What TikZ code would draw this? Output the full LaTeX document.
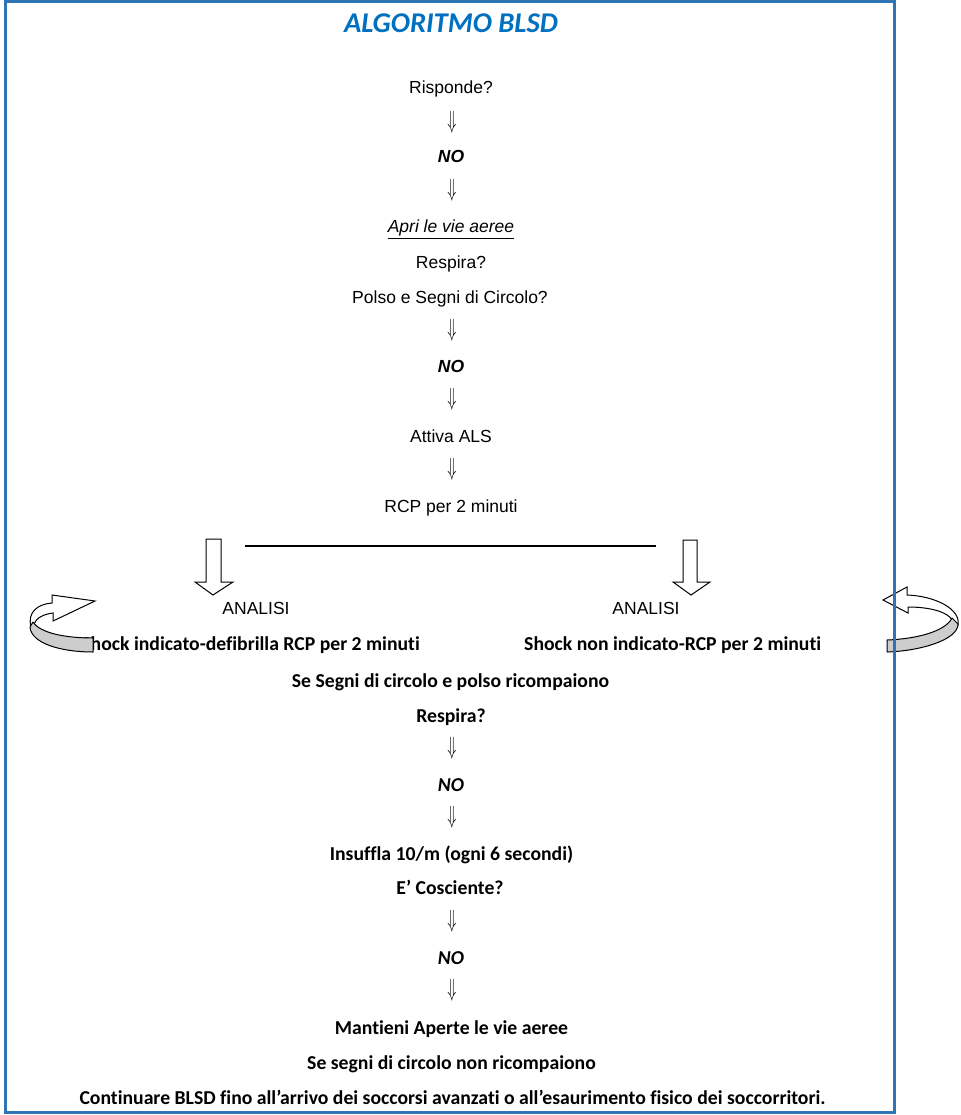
\documentclass[tikz,border=0pt]{standalone}
\usepackage{fontspec}
\setmainfont{Liberation Sans}
\newfontfamily\calfont[Ligatures=NoCommon]{Carlito}
\usepackage{graphicx}
\definecolor{frameblue}{RGB}{46,117,182}
\definecolor{titleblue}{RGB}{0,112,192}
\definecolor{bandgray}{RGB}{205,205,205}
\newcommand\dnarr{\scalebox{0.6}[1]{$\Downarrow$}}
\begin{document}
\begin{tikzpicture}[x=1pt,y=-1pt,
  ar/.style={font=\fontsize{17.5}{20}\selectfont, anchor=base, inner sep=0pt},
  arno/.style={font=\bfseries\itshape\fontsize{17.5}{20}\selectfont, anchor=base, inner sep=0pt},
  cb/.style={font=\calfont\bfseries\fontsize{19.7}{22}\selectfont, anchor=base, inner sep=0pt},
  cbno/.style={font=\calfont\bfseries\itshape\fontsize{19.7}{22}\selectfont, anchor=base, inner sep=0pt},
  dn/.style={inner sep=0pt, font=\fontsize{23}{25}\selectfont},
  blk/.style={draw=black, line width=1pt, fill=white, line join=miter},
  circw/.style={draw=black, line width=1pt, fill=white, line join=miter},
  circg/.style={draw=black, line width=1pt, fill=bandgray, line join=round}
]
\useasboundingbox (0,0) rectangle (960,1115);
\fill[white] (0,0) rectangle (960,1115);

% title
\node[anchor=base, inner sep=0pt, font=\calfont\bfseries\itshape\fontsize{28.6}{30}\selectfont, text=titleblue] (title) at (451,33) {ALGORITMO BLSD};

% upper chain
\node[ar] (risp) at (451,94) {Risponde?};
\node[dn] (d1) at (452,122) {\dnarr};
\node[arno] (no1) at (451,163) {NO};
\node[dn] (d2) at (452,190) {\dnarr};
\node[ar, font=\itshape\fontsize{17.5}{20}\selectfont] (apri) at (451,233) {\underline{Apri le vie aeree}};
\node[ar] (resp1) at (451,268) {Respira?};
\node[ar] (polso) at (450,303) {Polso e Segni di Circolo?};
\node[dn] (d3) at (452,330) {\dnarr};
\node[arno] (no2) at (451,372) {NO};
\node[dn] (d4) at (452,399) {\dnarr};
\node[ar] (als) at (451,442) {Attiva ALS};
\node[dn] (d5) at (452,469) {\dnarr};
\node[ar] (rcp) at (451,512) {RCP per 2 minuti};

% split line
\coordinate (sl) at (245,546);
\coordinate (sr) at (656,546);
\draw[line width=1.3pt] (sl) -- (sr);

% block arrows
\draw[blk] (206,539) -- (221,539) -- (221,582) -- (233,582) -- (213,595) -- (195,582) -- (206,582) -- cycle;
\draw[blk] (683,540) -- (697,540) -- (697,582) -- (710,582) -- (691,595) -- (673,582) -- (683,582) -- cycle;

% branches
\node[ar] (anl) at (256,614) {ANALISI};
\node[ar] (anr) at (646,614) {ANALISI};
\node[cb, anchor=base east] (shl) at (420,650) {Shock indicato-defibrilla RCP per 2 minuti};
\node[cb, anchor=base west] (shr) at (524,650) {Shock non indicato-RCP per 2 minuti};

% left circular arrow
\draw[circw] (31,627) .. controls (27,612) and (38,604) .. (52,603) -- (52,595) -- (95,601) -- (53,621) -- (53,613) .. controls (44,614) and (36,618) .. (34,624) -- cycle;
\draw[circg] (33,622) .. controls (40,633) and (65,638) .. (93,638) -- (93,652) .. controls (60,652) and (31,643) .. (30,627) -- cycle;

% right circular arrow
\draw[circw] (958,625) .. controls (961,609) and (935,596) .. (907,595) -- (907,587) -- (883,600) -- (908,613) -- (908,607) .. controls (930,607) and (948,612) .. (952,620) -- cycle;
\draw[circg] (952,618) .. controls (945,632) and (915,639) .. (887,640) -- (887,652) .. controls (920,651) and (958,640) .. (958,624) -- cycle;

% lower chain
\node[cb] (segni) at (450.5,687) {Se Segni di circolo e polso ricompaiono};
\node[cb] (resp2) at (451,722) {Respira?};
\node[dn] (d6) at (452,748) {\dnarr};
\node[cbno] (no3) at (451,791) {NO};
\node[dn] (d7) at (452,817) {\dnarr};
\node[cb] (insuf) at (451.5,860) {Insuffla 10/m (ogni 6 secondi)};
\node[cb] (cosc) at (450,894) {E’ Cosciente?};
\node[dn] (d8) at (452,921) {\dnarr};
\node[cbno] (no4) at (451,964) {NO};
\node[dn] (d9) at (452,990) {\dnarr};
\node[cb] (mant) at (451.5,1034) {Mantieni Aperte le vie aeree};
\node[cb] (nonr) at (451.5,1069) {Se segni di circolo non ricompaiono};
\node[cb] (cont) at (452.5,1104) {Continuare BLSD fino all’arrivo dei soccorsi avanzati o all’esaurimento fisico dei soccorritori.};

% frame
\draw[frameblue, line width=3pt] (5,2) rectangle (894,1112);
\end{tikzpicture}
\end{document}
